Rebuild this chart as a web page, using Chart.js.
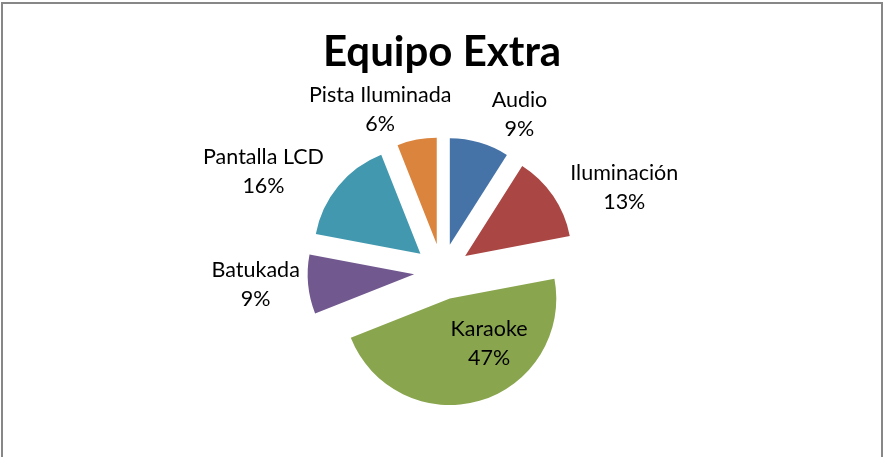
<!DOCTYPE html>
<html>
<head>
<meta charset="utf-8">
<script src="https://cdn.jsdelivr.net/npm/chart.js@4.4.1/dist/chart.umd.min.js"></script>
<style>
    html, body { margin: 0; padding: 0; background: #fff; overflow: hidden; }
    #frame { position: absolute; left: 1px; top: 2px; width: 878px; height: 520px; border: 2px solid #878787; border-bottom: none; }
    #equipo-extra { position: absolute; left: 0; top: 0; }
</style>
</head>
<body>
<div id="frame"></div>
<canvas id="equipo-extra" width="883" height="457"></canvas>
<script>
var categories = ['Audio', 'Iluminación', 'Karaoke', 'Batukada', 'Pantalla LCD', 'Pista Iluminada'];
var shares = [9, 13, 47, 9, 16, 6];
var sliceColors = ['#4572A7', '#AA4643', '#89A54E', '#71588F', '#4198AF', '#DB843D'];
var chartTitle = 'Equipo Extra';

var explodePx = 28;
var labelFont = '21.5px Lato';
var labelLineHeight = 29;
var labelGap = 8;

// excel style exploded pie: every slice pushed out along its bisector
var explodePlugin = {
    id: 'explode',
    afterDatasetUpdate: function(chart, args) {
        args.meta.data.forEach(function(arc) {
            var mid = (arc.startAngle + arc.endAngle) / 2;
            arc.x += Math.cos(mid) * explodePx;
            arc.y += Math.sin(mid) * explodePx;
        });
    }
};

// category + percent labels, big slice inside, the rest outside
var labelPlugin = {
    id: 'sliceLabels',
    afterDatasetsDraw: function(chart) {
        var ctx = chart.ctx;
        var meta = chart.getDatasetMeta(0);
        var total = shares.reduce(function(a, b) { return a + b; }, 0);
        ctx.save();
        ctx.font = labelFont;
        ctx.fillStyle = '#000';
        ctx.textAlign = 'center';
        ctx.textBaseline = 'middle';
        meta.data.forEach(function(arc, i) {
            var share = shares[i] / total;
            var lines = [categories[i], Math.round(share * 100) + '%'];
            var inside = share > 0.3;
            var mid = (arc.startAngle + arc.endAngle) / 2;
            // labels drift away from the vertical axis, like excel does
            var maxShift = (inside ? 25 : 12) * Math.PI / 180;
            var shift = maxShift * Math.min(1, 1.6 * Math.abs(Math.sin(mid)));
            var sign = Math.sin(mid) * Math.cos(mid) > 0 ? -1 : 1;
            var a = mid + sign * shift;
            var dx = Math.cos(a), dy = Math.sin(a);
            var dist;
            if (inside) {
                dist = arc.outerRadius * 0.56;
            } else {
                var hw = Math.max.apply(null, lines.map(function(t) { return ctx.measureText(t).width; })) / 2;
                var hh = lines.length * labelLineHeight / 2;
                var t = Math.min(Math.abs(dx) > 1e-3 ? hw / Math.abs(dx) : 1e6, Math.abs(dy) > 1e-3 ? hh / Math.abs(dy) : 1e6);
                dist = arc.outerRadius + labelGap + t;
            }
            var cx = arc.x + dx * dist;
            var cy = arc.y + dy * dist;
            lines.forEach(function(text, j) {
                ctx.fillText(text, cx, cy + (j - (lines.length - 1) / 2) * labelLineHeight);
            });
        });
        ctx.restore();
    }
};

var ctx = document.getElementById('equipo-extra').getContext('2d');
var equipoChart = new Chart(ctx, {
    type: 'pie',
    data: {
        labels: categories,
        datasets: [{
            data: shares,
            backgroundColor: sliceColors,
            borderWidth: 0,
            radius: 106.5
        }]
    },
    options: {
        responsive: false,
        animation: false,
        layout: { padding: { left: 1, right: 0, top: 0, bottom: 0 } },
        plugins: {
            legend: { display: false },
            tooltip: { enabled: false },
            title: {
                display: true,
                text: chartTitle,
                color: '#000',
                font: { family: 'Lato', size: 42, weight: 'bold' },
                padding: { top: 27, bottom: 9 }
            }
        }
    },
    plugins: [explodePlugin, labelPlugin]
});
</script>
</body>
</html>
